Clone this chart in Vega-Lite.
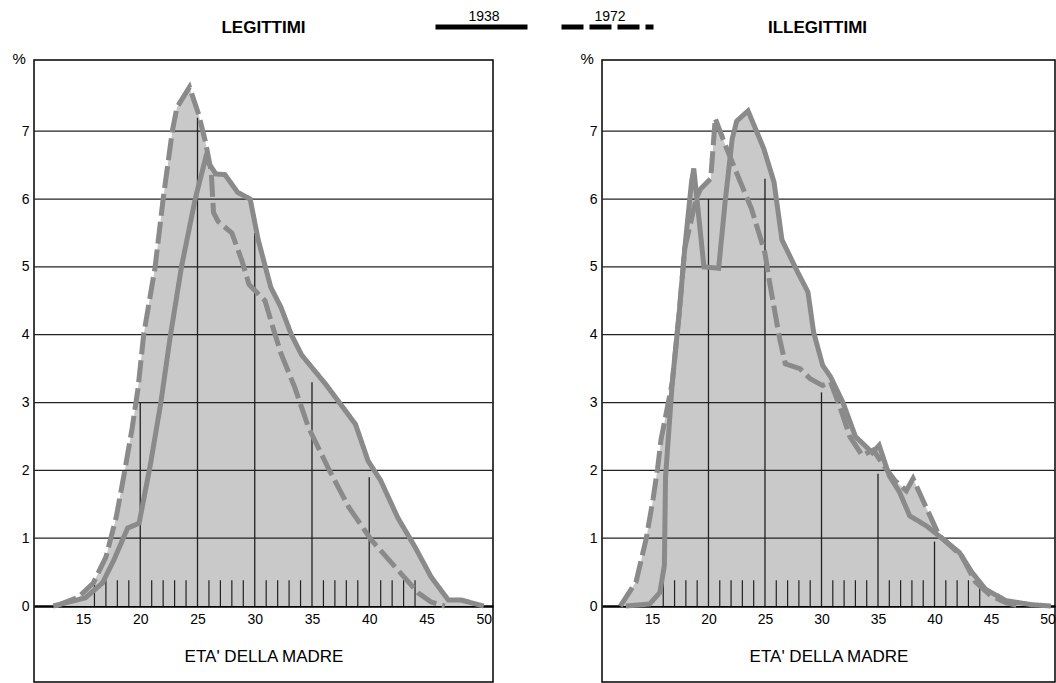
{
  "$schema": "https://vega.github.io/schema/vega-lite/v6.json",
  "background": "white",
  "padding": {"left": 11, "top": 16, "right": 0, "bottom": 0},
  "config": {
    "font": "Liberation Sans",
    "view": {"stroke": "black", "strokeWidth": 1.5},
    "title": {"fontSize": 17, "fontWeight": "bold", "color": "black", "offset": 14, "font": "Liberation Sans"}
  },
  "datasets": {
    "curves": [
      {"panel": "L", "year": "1938", "age": 12.4, "pct": 0},
      {"panel": "L", "year": "1938", "age": 15.2, "pct": 0.12},
      {"panel": "L", "year": "1938", "age": 16.7, "pct": 0.34},
      {"panel": "L", "year": "1938", "age": 17.7, "pct": 0.68},
      {"panel": "L", "year": "1938", "age": 18.9, "pct": 1.15},
      {"panel": "L", "year": "1938", "age": 19.9, "pct": 1.22},
      {"panel": "L", "year": "1938", "age": 20.9, "pct": 2.1},
      {"panel": "L", "year": "1938", "age": 21.8, "pct": 3.0},
      {"panel": "L", "year": "1938", "age": 22.6, "pct": 3.95},
      {"panel": "L", "year": "1938", "age": 23.6, "pct": 5.0},
      {"panel": "L", "year": "1938", "age": 24.8, "pct": 6.0},
      {"panel": "L", "year": "1938", "age": 25.7, "pct": 6.6},
      {"panel": "L", "year": "1938", "age": 26.6, "pct": 6.37},
      {"panel": "L", "year": "1938", "age": 27.4, "pct": 6.36},
      {"panel": "L", "year": "1938", "age": 28.5, "pct": 6.1},
      {"panel": "L", "year": "1938", "age": 29.6, "pct": 6.0},
      {"panel": "L", "year": "1938", "age": 30.3, "pct": 5.4},
      {"panel": "L", "year": "1938", "age": 31.4, "pct": 4.7},
      {"panel": "L", "year": "1938", "age": 32.3, "pct": 4.4},
      {"panel": "L", "year": "1938", "age": 33.2, "pct": 4.0},
      {"panel": "L", "year": "1938", "age": 34.1, "pct": 3.7},
      {"panel": "L", "year": "1938", "age": 36.2, "pct": 3.27},
      {"panel": "L", "year": "1938", "age": 38.8, "pct": 2.68},
      {"panel": "L", "year": "1938", "age": 39.9, "pct": 2.14},
      {"panel": "L", "year": "1938", "age": 41.0, "pct": 1.85},
      {"panel": "L", "year": "1938", "age": 42.5, "pct": 1.3},
      {"panel": "L", "year": "1938", "age": 44.0, "pct": 0.87},
      {"panel": "L", "year": "1938", "age": 45.4, "pct": 0.43},
      {"panel": "L", "year": "1938", "age": 46.9, "pct": 0.09},
      {"panel": "L", "year": "1938", "age": 48.0, "pct": 0.09},
      {"panel": "L", "year": "1938", "age": 50.0, "pct": 0},
      {"panel": "L", "year": "1972", "age": 12.6, "pct": 0},
      {"panel": "L", "year": "1972", "age": 14.6, "pct": 0.13},
      {"panel": "L", "year": "1972", "age": 15.9, "pct": 0.34},
      {"panel": "L", "year": "1972", "age": 17.0, "pct": 0.72},
      {"panel": "L", "year": "1972", "age": 17.9, "pct": 1.31},
      {"panel": "L", "year": "1972", "age": 18.6, "pct": 1.95},
      {"panel": "L", "year": "1972", "age": 19.3, "pct": 2.63},
      {"panel": "L", "year": "1972", "age": 19.8, "pct": 3.2},
      {"panel": "L", "year": "1972", "age": 20.3, "pct": 4.0},
      {"panel": "L", "year": "1972", "age": 21.3, "pct": 5.0},
      {"panel": "L", "year": "1972", "age": 22.0, "pct": 6.0},
      {"panel": "L", "year": "1972", "age": 22.8, "pct": 7.0},
      {"panel": "L", "year": "1972", "age": 23.2, "pct": 7.35},
      {"panel": "L", "year": "1972", "age": 24.3, "pct": 7.65},
      {"panel": "L", "year": "1972", "age": 25.1, "pct": 7.25},
      {"panel": "L", "year": "1972", "age": 25.7, "pct": 6.84},
      {"panel": "L", "year": "1972", "age": 26.2, "pct": 6.4},
      {"panel": "L", "year": "1972", "age": 26.4, "pct": 5.8},
      {"panel": "L", "year": "1972", "age": 26.8, "pct": 5.67},
      {"panel": "L", "year": "1972", "age": 28.0, "pct": 5.5},
      {"panel": "L", "year": "1972", "age": 28.9, "pct": 5.08},
      {"panel": "L", "year": "1972", "age": 29.5, "pct": 4.74},
      {"panel": "L", "year": "1972", "age": 30.9, "pct": 4.5},
      {"panel": "L", "year": "1972", "age": 31.6, "pct": 4.1},
      {"panel": "L", "year": "1972", "age": 32.3, "pct": 3.72},
      {"panel": "L", "year": "1972", "age": 33.5, "pct": 3.22},
      {"panel": "L", "year": "1972", "age": 34.7, "pct": 2.63},
      {"panel": "L", "year": "1972", "age": 36.4, "pct": 2.04},
      {"panel": "L", "year": "1972", "age": 38.2, "pct": 1.46},
      {"panel": "L", "year": "1972", "age": 40.2, "pct": 0.97},
      {"panel": "L", "year": "1972", "age": 42.5, "pct": 0.53},
      {"panel": "L", "year": "1972", "age": 44.3, "pct": 0.19},
      {"panel": "L", "year": "1972", "age": 45.4, "pct": 0.06},
      {"panel": "L", "year": "1972", "age": 46.6, "pct": 0},
      {"panel": "R", "year": "1938", "age": 12.7, "pct": 0},
      {"panel": "R", "year": "1938", "age": 14.8, "pct": 0.03},
      {"panel": "R", "year": "1938", "age": 15.7, "pct": 0.2},
      {"panel": "R", "year": "1938", "age": 16.1, "pct": 0.6},
      {"panel": "R", "year": "1938", "age": 16.2, "pct": 1.9},
      {"panel": "R", "year": "1938", "age": 16.8, "pct": 3.3},
      {"panel": "R", "year": "1938", "age": 17.4, "pct": 4.3},
      {"panel": "R", "year": "1938", "age": 17.9, "pct": 5.27},
      {"panel": "R", "year": "1938", "age": 18.5, "pct": 6.25},
      {"panel": "R", "year": "1938", "age": 18.7, "pct": 6.45},
      {"panel": "R", "year": "1938", "age": 19.6, "pct": 5.0},
      {"panel": "R", "year": "1938", "age": 20.9, "pct": 4.98},
      {"panel": "R", "year": "1938", "age": 21.5, "pct": 6.0},
      {"panel": "R", "year": "1938", "age": 22.1, "pct": 6.89},
      {"panel": "R", "year": "1938", "age": 22.5, "pct": 7.15},
      {"panel": "R", "year": "1938", "age": 23.5, "pct": 7.3},
      {"panel": "R", "year": "1938", "age": 24.9, "pct": 6.74},
      {"panel": "R", "year": "1938", "age": 25.8, "pct": 6.25},
      {"panel": "R", "year": "1938", "age": 26.5, "pct": 5.4},
      {"panel": "R", "year": "1938", "age": 27.9, "pct": 4.92},
      {"panel": "R", "year": "1938", "age": 28.8, "pct": 4.63},
      {"panel": "R", "year": "1938", "age": 29.3, "pct": 4.04},
      {"panel": "R", "year": "1938", "age": 30.1, "pct": 3.55},
      {"panel": "R", "year": "1938", "age": 30.8, "pct": 3.38},
      {"panel": "R", "year": "1938", "age": 31.9, "pct": 3.0},
      {"panel": "R", "year": "1938", "age": 33.0, "pct": 2.5},
      {"panel": "R", "year": "1938", "age": 34.5, "pct": 2.26},
      {"panel": "R", "year": "1938", "age": 35.1, "pct": 2.37},
      {"panel": "R", "year": "1938", "age": 36.0, "pct": 1.92},
      {"panel": "R", "year": "1938", "age": 36.9, "pct": 1.68},
      {"panel": "R", "year": "1938", "age": 37.8, "pct": 1.33},
      {"panel": "R", "year": "1938", "age": 39.3, "pct": 1.18},
      {"panel": "R", "year": "1938", "age": 41.1, "pct": 0.94},
      {"panel": "R", "year": "1938", "age": 42.2, "pct": 0.79},
      {"panel": "R", "year": "1938", "age": 43.3, "pct": 0.5},
      {"panel": "R", "year": "1938", "age": 44.5, "pct": 0.25},
      {"panel": "R", "year": "1938", "age": 46.3, "pct": 0.08},
      {"panel": "R", "year": "1938", "age": 48.6, "pct": 0.02},
      {"panel": "R", "year": "1938", "age": 50.3, "pct": 0},
      {"panel": "R", "year": "1972", "age": 12.2, "pct": 0},
      {"panel": "R", "year": "1972", "age": 13.6, "pct": 0.36},
      {"panel": "R", "year": "1972", "age": 14.5, "pct": 1.0},
      {"panel": "R", "year": "1972", "age": 15.1, "pct": 1.58},
      {"panel": "R", "year": "1972", "age": 15.5, "pct": 2.03},
      {"panel": "R", "year": "1972", "age": 15.8, "pct": 2.45},
      {"panel": "R", "year": "1972", "age": 16.8, "pct": 3.3},
      {"panel": "R", "year": "1972", "age": 17.4, "pct": 4.3},
      {"panel": "R", "year": "1972", "age": 17.9, "pct": 5.27},
      {"panel": "R", "year": "1972", "age": 18.9, "pct": 6.0},
      {"panel": "R", "year": "1972", "age": 19.3, "pct": 6.15},
      {"panel": "R", "year": "1972", "age": 20.2, "pct": 6.3},
      {"panel": "R", "year": "1972", "age": 20.6, "pct": 7.19},
      {"panel": "R", "year": "1972", "age": 21.5, "pct": 6.79},
      {"panel": "R", "year": "1972", "age": 22.7, "pct": 6.3},
      {"panel": "R", "year": "1972", "age": 23.8, "pct": 5.86},
      {"panel": "R", "year": "1972", "age": 24.7, "pct": 5.37},
      {"panel": "R", "year": "1972", "age": 25.0, "pct": 5.2},
      {"panel": "R", "year": "1972", "age": 25.4, "pct": 4.78},
      {"panel": "R", "year": "1972", "age": 26.3, "pct": 3.94},
      {"panel": "R", "year": "1972", "age": 26.8, "pct": 3.57},
      {"panel": "R", "year": "1972", "age": 28.1, "pct": 3.5},
      {"panel": "R", "year": "1972", "age": 29.0, "pct": 3.35},
      {"panel": "R", "year": "1972", "age": 30.1, "pct": 3.25},
      {"panel": "R", "year": "1972", "age": 30.8, "pct": 3.3},
      {"panel": "R", "year": "1972", "age": 31.6, "pct": 2.95},
      {"panel": "R", "year": "1972", "age": 32.5, "pct": 2.5},
      {"panel": "R", "year": "1972", "age": 33.6, "pct": 2.22},
      {"panel": "R", "year": "1972", "age": 34.6, "pct": 2.3},
      {"panel": "R", "year": "1972", "age": 35.5, "pct": 2.07},
      {"panel": "R", "year": "1972", "age": 36.5, "pct": 1.85},
      {"panel": "R", "year": "1972", "age": 37.5, "pct": 1.7},
      {"panel": "R", "year": "1972", "age": 38.1, "pct": 1.88},
      {"panel": "R", "year": "1972", "age": 39.3, "pct": 1.44},
      {"panel": "R", "year": "1972", "age": 40.4, "pct": 1.04},
      {"panel": "R", "year": "1972", "age": 42.4, "pct": 0.74},
      {"panel": "R", "year": "1972", "age": 43.6, "pct": 0.36},
      {"panel": "R", "year": "1972", "age": 45.0, "pct": 0.15},
      {"panel": "R", "year": "1972", "age": 46.3, "pct": 0.05},
      {"panel": "R", "year": "1972", "age": 47.5, "pct": 0}
    ],
    "grid": [{"v": 1}, {"v": 2}, {"v": 3}, {"v": 4}, {"v": 5}, {"v": 6}, {"v": 7}],
    "vlines": [
      {"panel": "L", "age": 20, "top": 3.0},
      {"panel": "L", "age": 25, "top": 7.2},
      {"panel": "L", "age": 30, "top": 5.5},
      {"panel": "L", "age": 35, "top": 3.3},
      {"panel": "L", "age": 40, "top": 1.9},
      {"panel": "R", "age": 20, "top": 6.0},
      {"panel": "R", "age": 25, "top": 6.3},
      {"panel": "R", "age": 30, "top": 3.15},
      {"panel": "R", "age": 35, "top": 1.95},
      {"panel": "R", "age": 40, "top": 0.95}
    ],
    "ticks": [
      {"age": 16, "base": 0, "len": 0.38}, {"age": 17, "base": 0, "len": 0.38}, {"age": 18, "base": 0, "len": 0.38}, {"age": 19, "base": 0, "len": 0.38},
      {"age": 21, "base": 0, "len": 0.38}, {"age": 22, "base": 0, "len": 0.38}, {"age": 23, "base": 0, "len": 0.38}, {"age": 24, "base": 0, "len": 0.38},
      {"age": 26, "base": 0, "len": 0.38}, {"age": 27, "base": 0, "len": 0.38}, {"age": 28, "base": 0, "len": 0.38}, {"age": 29, "base": 0, "len": 0.38},
      {"age": 31, "base": 0, "len": 0.38}, {"age": 32, "base": 0, "len": 0.38}, {"age": 33, "base": 0, "len": 0.38}, {"age": 34, "base": 0, "len": 0.38},
      {"age": 36, "base": 0, "len": 0.38}, {"age": 37, "base": 0, "len": 0.38}, {"age": 38, "base": 0, "len": 0.38}, {"age": 39, "base": 0, "len": 0.38},
      {"age": 41, "base": 0, "len": 0.38}, {"age": 42, "base": 0, "len": 0.38}, {"age": 43, "base": 0, "len": 0.38}, {"age": 44, "base": 0, "len": 0.38}
    ]
  },
  "spacing": 84,
  "resolve": {"scale": {"strokeDash": "shared"}, "legend": {"strokeDash": "shared"}},
  "hconcat": [
    {
      "width": 459,
      "height": 622,
      "title": {"text": "LEGITTIMI"},
      "layer": [
        {
          "data": {"name": "curves"},
          "transform": [{"filter": "datum.panel == 'L'"}],
          "mark": {"type": "area", "color": "#c9c9c9", "opacity": 1},
          "encoding": {
            "x": {"field": "age", "type": "quantitative", "scale": {"domain": [10.72, 50.81], "nice": false, "zero": false},
              "axis": {"values": [15, 20, 25, 30, 35, 40, 45, 50], "title": "ETA' DELLA MADRE", "offset": -76, "grid": false, "ticks": false, "domainColor": "black", "domainWidth": 2.5, "labelPadding": 6, "labelFontSize": 14, "labelColor": "black", "labelFlush": false, "titleFontSize": 17, "titleFontWeight": "normal", "titleColor": "black", "titlePadding": 22}},
            "y": {"field": "pct", "type": "quantitative", "stack": null, "scale": {"domain": [-1.12, 8.05], "nice": false, "zero": false},
              "axis": {"values": [0, 1, 2, 3, 4, 5, 6, 7], "format": "d", "title": "%", "titleAngle": 0, "titleAlign": "left", "titleBaseline": "alphabetic", "titleX": -22, "titleY": 3, "titleFontSize": 15, "titleFontWeight": "normal", "titleColor": "black", "grid": false, "domain": false, "ticks": false, "labelPadding": 5, "labelFontSize": 14, "labelColor": "black"}},
            "detail": {"field": "year", "type": "nominal"}
          }
        },
        {
          "data": {"name": "grid"},
          "mark": {"type": "rule", "color": "#222222", "strokeWidth": 1.3},
          "encoding": {"y": {"field": "v", "type": "quantitative"}}
        },
        {
          "data": {"name": "vlines"},
          "transform": [{"filter": "datum.panel == 'L'"}],
          "mark": {"type": "rule", "color": "#222222", "strokeWidth": 1.3},
          "encoding": {"x": {"field": "age", "type": "quantitative"}, "y": {"field": "top", "type": "quantitative"}, "y2": {"datum": 0}}
        },
        {
          "data": {"name": "ticks"},
          "mark": {"type": "rule", "color": "#222222", "strokeWidth": 1.2},
          "encoding": {"x": {"field": "age", "type": "quantitative"}, "y": {"field": "len", "type": "quantitative"}, "y2": {"field": "base"}}
        },
        {
          "data": {"name": "curves"},
          "transform": [{"filter": "datum.panel == 'L'"}],
          "mark": {"type": "line", "color": "#8a8a8a", "strokeWidth": 5, "strokeJoin": "miter"},
          "encoding": {
            "x": {"field": "age", "type": "quantitative"},
            "y": {"field": "pct", "type": "quantitative", "stack": null},
            "strokeDash": {"field": "year", "type": "nominal", "scale": {"domain": ["1938", "1972"], "range": [[1, 0], [22, 6]]},
              "legend": {"orient": "none", "legendX": 440, "legendY": -44, "direction": "horizontal", "title": null, "symbolType": "M-9.2,0.7H9.2", "symbolSize": 100, "symbolStrokeWidth": 5, "symbolStrokeColor": "black", "columnPadding": 13, "labelAlign": "center", "labelOffset": -5, "labelFontSize": 14, "labelColor": "black", "labelBaseline": "bottom"}}
          }
        }
      ]
    },
    {
      "width": 453,
      "height": 622,
      "title": {"text": "ILLEGITTIMI", "dx": -11},
      "layer": [
        {
          "data": {"name": "curves"},
          "transform": [{"filter": "datum.panel == 'R'"}],
          "mark": {"type": "area", "color": "#c9c9c9", "opacity": 1},
          "encoding": {
            "x": {"field": "age", "type": "quantitative", "scale": {"domain": [10.58, 50.66], "nice": false, "zero": false},
              "axis": {"values": [15, 20, 25, 30, 35, 40, 45, 50], "title": "ETA' DELLA MADRE", "offset": -76, "grid": false, "ticks": false, "domainColor": "black", "domainWidth": 2.5, "labelPadding": 6, "labelFontSize": 14, "labelColor": "black", "labelFlush": false, "titleFontSize": 17, "titleFontWeight": "normal", "titleColor": "black", "titlePadding": 22}},
            "y": {"field": "pct", "type": "quantitative", "stack": null, "scale": {"domain": [-1.12, 8.05], "nice": false, "zero": false},
              "axis": {"values": [0, 1, 2, 3, 4, 5, 6, 7], "format": "d", "title": "%", "titleAngle": 0, "titleAlign": "left", "titleBaseline": "alphabetic", "titleX": -22, "titleY": 3, "titleFontSize": 15, "titleFontWeight": "normal", "titleColor": "black", "grid": false, "domain": false, "ticks": false, "labelPadding": 5, "labelFontSize": 14, "labelColor": "black"}},
            "detail": {"field": "year", "type": "nominal"}
          }
        },
        {
          "data": {"name": "grid"},
          "mark": {"type": "rule", "color": "#222222", "strokeWidth": 1.3},
          "encoding": {"y": {"field": "v", "type": "quantitative"}}
        },
        {
          "data": {"name": "vlines"},
          "transform": [{"filter": "datum.panel == 'R'"}],
          "mark": {"type": "rule", "color": "#222222", "strokeWidth": 1.3},
          "encoding": {"x": {"field": "age", "type": "quantitative"}, "y": {"field": "top", "type": "quantitative"}, "y2": {"datum": 0}}
        },
        {
          "data": {"name": "ticks"},
          "mark": {"type": "rule", "color": "#222222", "strokeWidth": 1.2},
          "encoding": {"x": {"field": "age", "type": "quantitative"}, "y": {"field": "len", "type": "quantitative"}, "y2": {"field": "base"}}
        },
        {
          "data": {"name": "curves"},
          "transform": [{"filter": "datum.panel == 'R'"}],
          "mark": {"type": "line", "color": "#8a8a8a", "strokeWidth": 5, "strokeJoin": "miter"},
          "encoding": {
            "x": {"field": "age", "type": "quantitative"},
            "y": {"field": "pct", "type": "quantitative", "stack": null},
            "strokeDash": {"field": "year", "type": "nominal", "scale": {"domain": ["1938", "1972"], "range": [[1, 0], [22, 6]]},
              "legend": {"orient": "none", "legendX": 440, "legendY": -44, "direction": "horizontal", "title": null, "symbolType": "M-9.2,0.7H9.2", "symbolSize": 100, "symbolStrokeWidth": 5, "symbolStrokeColor": "black", "columnPadding": 13, "labelAlign": "center", "labelOffset": -5, "labelFontSize": 14, "labelColor": "black", "labelBaseline": "bottom"}}
          }
        }
      ]
    }
  ]
}
